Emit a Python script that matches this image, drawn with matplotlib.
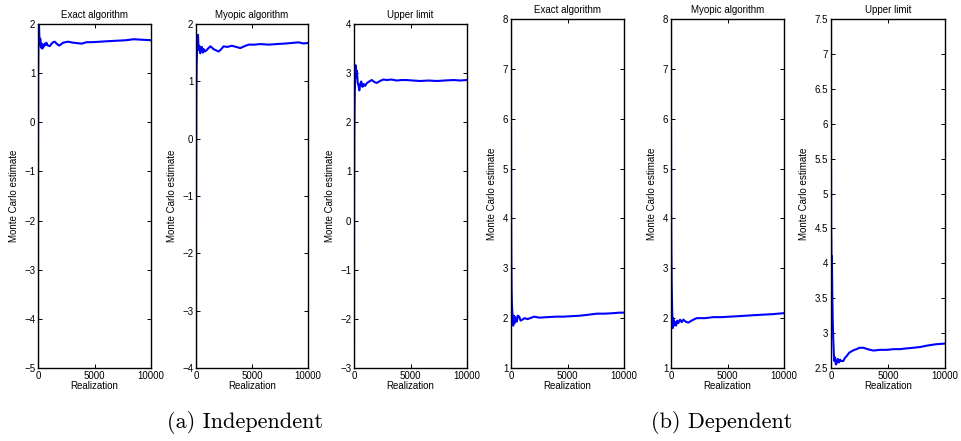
import matplotlib
matplotlib.use("Agg")
import matplotlib.pyplot as plt
from matplotlib.ticker import FuncFormatter, MultipleLocator

plt.rcParams['font.family'] = ['Liberation Sans', 'DejaVu Sans']

titles = ['Exact algorithm', 'Myopic algorithm', 'Upper limit',
          'Exact algorithm', 'Myopic algorithm', 'Upper limit']
captions = ['(a) Independent', '(b) Dependent']

# running Monte Carlo estimates, (realization, estimate)
exact_ind_x = [0, 5, 15, 30, 50, 70, 90, 120, 160, 200, 260, 320, 390, 450, 520, 600,
               680, 740, 820, 900, 1040, 1200, 1350, 1480, 1650, 1870, 2050, 2230, 2450,
               2670, 3100, 3500, 3860, 4300, 4800, 5500, 6200, 7000, 7800, 8460, 9200, 10000]
exact_ind_y = [-5.2, -1.0, 0.9, 1.4, 1.85, 1.7, 1.97, 1.75, 1.58, 1.7, 1.52, 1.6, 1.5, 1.58,
               1.54, 1.6, 1.57, 1.62, 1.58, 1.56, 1.55, 1.6, 1.63, 1.64, 1.6, 1.56, 1.59,
               1.62, 1.63, 1.64, 1.62, 1.61, 1.6, 1.63, 1.63, 1.64, 1.65, 1.66, 1.67, 1.69,
               1.68, 1.67]

myopic_ind_x = [0, 10, 30, 60, 100, 150, 180, 230, 300, 380, 450, 530, 620, 700, 800, 980,
                1120, 1280, 1420, 1570, 1800, 2020, 2250, 2460, 2800, 3200, 3600, 3950, 4300,
                4690, 5200, 5730, 6500, 7200, 8000, 8600, 9140, 9600, 10000]
myopic_ind_y = [-4.2, -1.0, 0.8, 1.3, 1.55, 1.7, 1.81, 1.55, 1.62, 1.49, 1.58, 1.6, 1.5,
                1.56, 1.52, 1.55, 1.58, 1.61, 1.59, 1.56, 1.54, 1.52, 1.56, 1.61, 1.6, 1.62,
                1.6, 1.58, 1.61, 1.64, 1.64, 1.65, 1.64, 1.65, 1.66, 1.67, 1.68, 1.66, 1.67]

upper_ind_x = [0, 10, 30, 60, 100, 150, 200, 260, 330, 400, 470, 550, 640, 750, 860, 980,
               1150, 1350, 1570, 1800, 2010, 2300, 2600, 2900, 3300, 3790, 4200, 4670, 5200,
               5860, 6600, 7340, 8000, 8800, 9400, 10000]
upper_ind_y = [-3.2, 0.5, 1.8, 2.5, 2.95, 3.16, 2.9, 3.05, 2.8, 2.75, 2.65, 2.78, 2.83, 2.72,
               2.78, 2.74, 2.8, 2.83, 2.86, 2.82, 2.8, 2.84, 2.87, 2.86, 2.87, 2.85, 2.86,
               2.86, 2.85, 2.84, 2.85, 2.84, 2.85, 2.86, 2.85, 2.86]

exact_dep_x = [0, 5, 15, 30, 50, 80, 120, 160, 200, 260, 320, 380, 440, 520, 600, 730, 850,
               1000, 1200, 1460, 1700, 2050, 2500, 3200, 4000, 4680, 5400, 6140, 6900, 7600,
               8300, 9060, 9600, 10000]
exact_dep_y = [8.5, 6.0, 4.0, 3.1, 2.6, 2.3, 2.1, 1.95, 1.85, 2.05, 1.9, 2.02, 2.0, 1.93,
               2.05, 2.03, 1.95, 1.97, 2.0, 1.98, 2.0, 2.03, 2.01, 2.02, 2.03, 2.03, 2.04,
               2.05, 2.07, 2.09, 2.09, 2.1, 2.11, 2.11]

myopic_dep_x = [0, 5, 15, 30, 60, 100, 150, 200, 260, 350, 450, 550, 650, 800, 950, 1090,
                1300, 1530, 1900, 2270, 3000, 3750, 4500, 5220, 6000, 6700, 7400, 8170, 9000,
                10000]
myopic_dep_y = [8.5, 6.0, 4.2, 3.4, 2.7, 2.2, 1.8, 2.0, 1.85, 1.93, 1.85, 1.95, 1.9, 1.97,
                1.92, 1.97, 1.93, 1.91, 1.96, 2.0, 2.0, 2.02, 2.02, 2.03, 2.04, 2.05, 2.06,
                2.07, 2.08, 2.1]

upper_dep_x = [0, 5, 15, 30, 50, 80, 110, 150, 200, 250, 290, 360, 430, 500, 600, 700, 790,
               900, 1080, 1200, 1370, 1600, 1810, 2050, 2250, 2500, 2840, 3200, 3710, 4300,
               4880, 5500, 6050, 6600, 7220, 7800, 8390, 9200, 10000]
upper_dep_y = [8.0, 5.5, 4.5, 4.3, 3.9, 4.1, 3.6, 3.2, 2.9, 2.7, 2.6, 2.65, 2.55, 2.57,
               2.63, 2.58, 2.62, 2.6, 2.6, 2.64, 2.67, 2.72, 2.74, 2.76, 2.77, 2.79, 2.79,
               2.77, 2.75, 2.76, 2.76, 2.77, 2.77, 2.78, 2.79, 2.8, 2.82, 2.84, 2.85]

series = [(exact_ind_x, exact_ind_y), (myopic_ind_x, myopic_ind_y), (upper_ind_x, upper_ind_y),
          (exact_dep_x, exact_dep_y), (myopic_dep_x, myopic_dep_y), (upper_dep_x, upper_dep_y)]
ylims = [(-5, 2), (-4, 2), (-3, 4), (1, 8), (1, 8), (2.5, 7.5)]
ysteps = [1, 1, 1, 1, 1, 0.5]

W, H = 961, 441
fig = plt.figure(figsize=(W / 100, H / 100), dpi=100)

# panel boxes in pixels: left, top, width (bottom is shared)
lefts = [38, 196, 354, 511, 671, 831]
tops = [24, 24, 24, 19, 19, 19]
widths = [113, 112, 113, 113, 113, 114]
bottom = 368


def fmt(v, pos):
    return ('%g' % v).replace('-', '\u2212')


for i in range(6):
    ax = fig.add_axes([lefts[i] / W, (H - bottom) / H, widths[i] / W, (bottom - tops[i]) / H])
    x, y = series[i]
    ax.plot(x, y, color='blue', lw=1.5)
    ax.set_xlim(0, 10000)
    ax.set_ylim(*ylims[i])
    ax.set_xticks([0, 5000, 10000])
    ax.yaxis.set_major_locator(MultipleLocator(ysteps[i]))
    ax.yaxis.set_major_formatter(FuncFormatter(fmt))
    ax.tick_params(direction='in', top=True, right=True, length=3, width=0.7,
                   labelsize=7, pad=2)
    for s in ax.spines.values():
        s.set_linewidth(1.0)
    ax.set_title(titles[i], fontsize=7, pad=4)
    ax.set_xlabel('Realization', fontsize=7, labelpad=0)
    ax.set_ylabel('Monte Carlo estimate', fontsize=7, labelpad=4)

fig.text(245 / W, 1 - 422 / H, captions[0], family='cmr10', fontsize=16,
         ha='center', va='center')
fig.text(722 / W, 1 - 422 / H, captions[1], family='cmr10', fontsize=16,
         ha='center', va='center')

fig.savefig('out.png', dpi=100)
